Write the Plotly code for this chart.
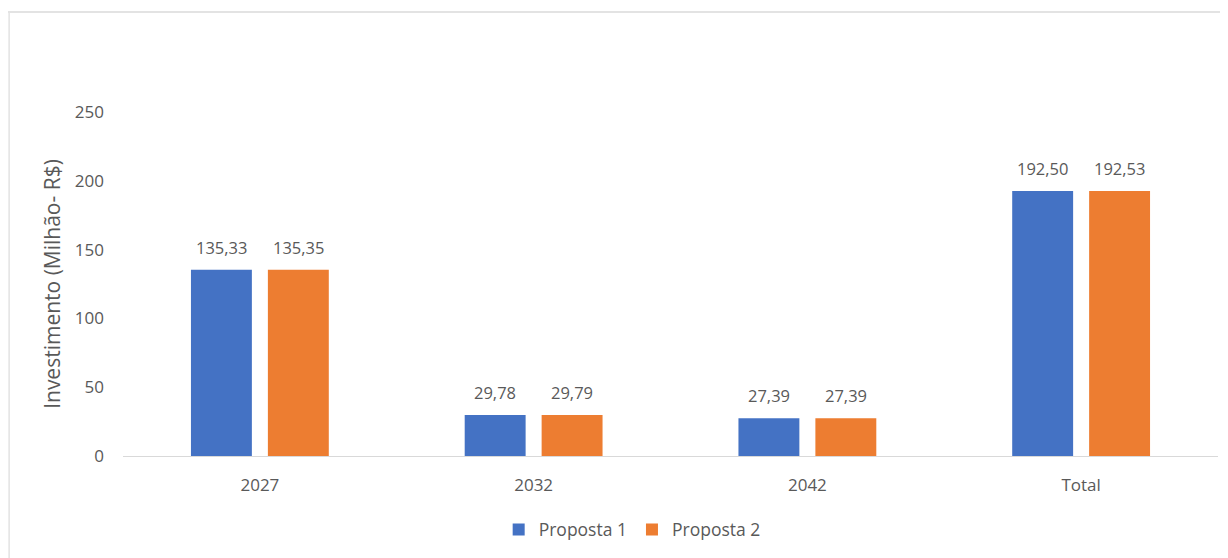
import plotly.graph_objects as go

categories = ["2027", "2032", "2042", "Total"]
proposta1 = [135.33, 29.78, 27.39, 192.50]
proposta2 = [135.35, 29.79, 27.39, 192.53]
y_ticks = [0, 50, 100, 150, 200, 250]

def fmt(v):
    return f"{v:.2f}".replace(".", ",")

font_family = "Open Sans, Lato, sans-serif"
gray = "#595959"

W, H = 1220, 550
ML, MR, MT, MB = 115, 10, 104, 92
BARGAP, GROUPGAP = 0.438, 0.208

fig = go.Figure()
fig.add_trace(go.Bar(
    x=categories, y=proposta1, name="Proposta 1",
    marker=dict(color="#4472C4", line=dict(width=0)),
))
fig.add_trace(go.Bar(
    x=categories, y=proposta2, name="Proposta 2",
    marker=dict(color="#ED7D31", line=dict(width=0)),
))

# data labels above each bar (offset to each bar's slot within group)
cat_px = (W - ML - MR) / len(categories)
slot_px = cat_px * (1 - BARGAP) / 2
annotations = []
for series, sign in ((proposta1, -1), (proposta2, 1)):
    for i, v in enumerate(series):
        annotations.append(dict(
            x=i, y=v, xref="x", yref="y", text=fmt(v), showarrow=False,
            xshift=sign * slot_px / 2, yshift=9, yanchor="bottom",
            font=dict(size=16.5, color=gray, family=font_family),
        ))

plot_h = H - MT - MB
top_y = (H - MB) / plot_h

fig.update_layout(
    width=W, height=H,
    paper_bgcolor="white", plot_bgcolor="white",
    margin=dict(l=ML, r=MR, t=MT, b=MB),
    barmode="group", bargap=BARGAP, bargroupgap=GROUPGAP,
    font=dict(family=font_family, color=gray, size=16),
    showlegend=True,
    legend=dict(orientation="h", x=0.465, xanchor="center", y=-0.162, yanchor="top",
                font=dict(size=17.5, color=gray), itemwidth=30, traceorder="normal"),
    xaxis=dict(type="category", showgrid=False, showline=True, linecolor="#D9D9D9", linewidth=1,
               ticks="", ticklabelstandoff=14, tickfont=dict(size=17, color=gray)),
    yaxis=dict(range=[0, 250], tickvals=y_ticks, showgrid=False, zeroline=False,
               showline=False, ticks="", ticklabelstandoff=18,
               tickfont=dict(size=17, color=gray),
               title=dict(text="Investimento (Milhão- R$)", font=dict(size=21, color=gray), standoff=8)),
    annotations=annotations,
    shapes=[
        dict(type="line", xref="paper", yref="paper", x0=-0.11, x1=1.01, y0=top_y - 0.003, y1=top_y - 0.003,
             line=dict(color="#E3E3E3", width=2)),
        dict(type="line", xref="paper", yref="paper", x0=-0.104, x1=-0.104, y0=-0.3, y1=top_y - 0.003,
             line=dict(color="#E3E3E3", width=1.5)),
    ],
)

fig.write_html("out.html")
